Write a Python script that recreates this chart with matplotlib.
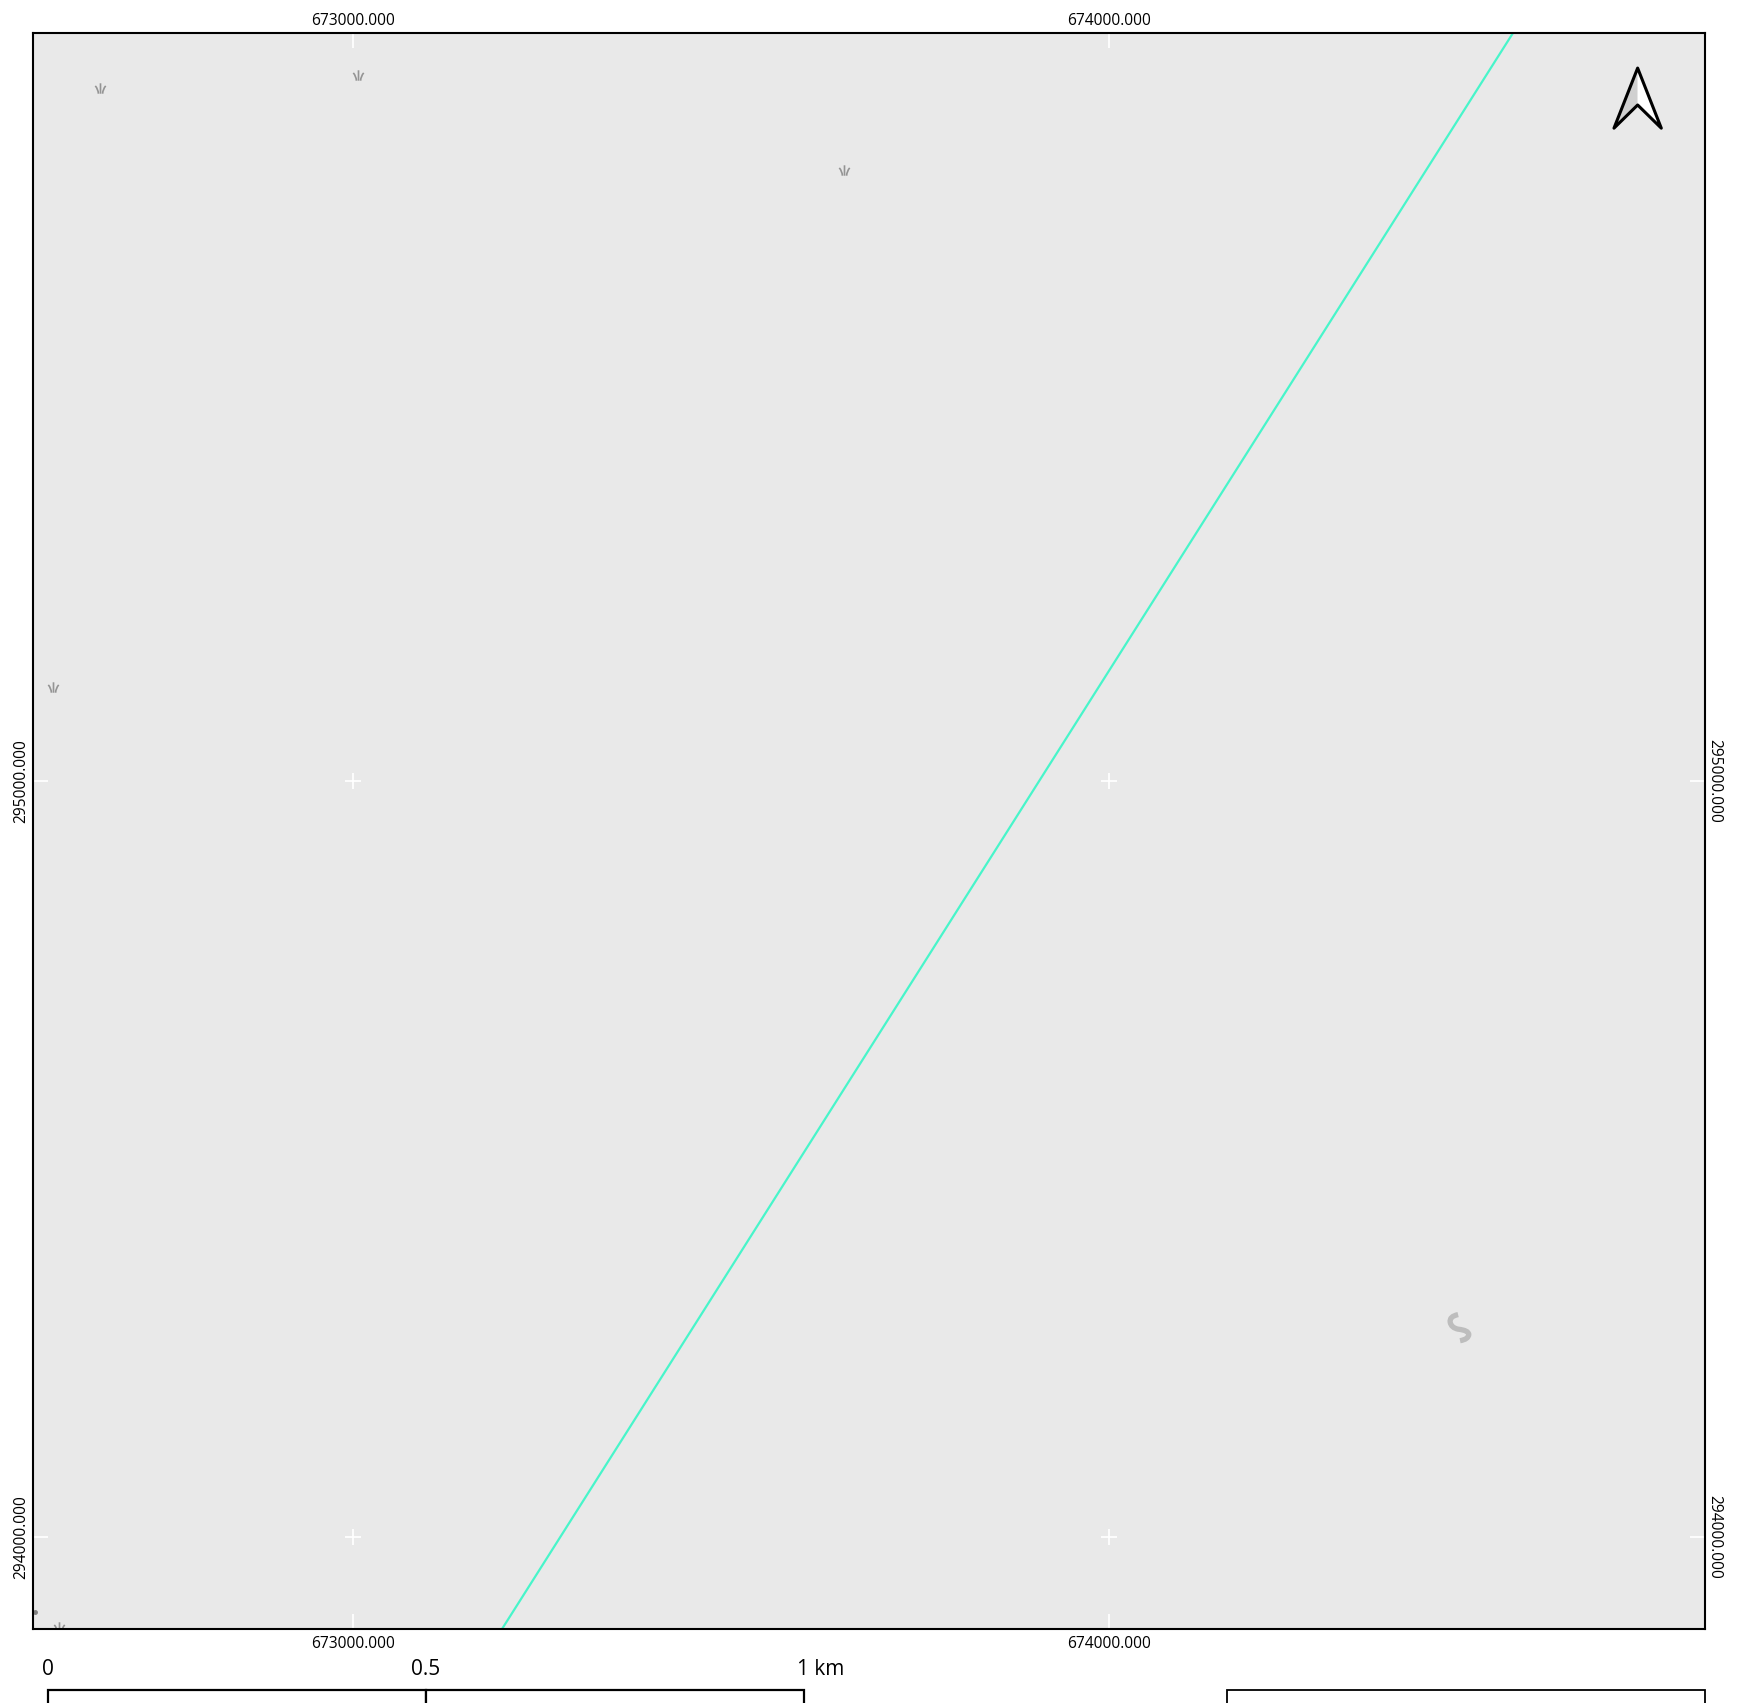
import numpy as np
import matplotlib
matplotlib.use('Agg')
import matplotlib.pyplot as plt
from matplotlib.patches import Polygon, Rectangle
from matplotlib.path import Path
from matplotlib.ticker import StrMethodFormatter

plt.rcParams['font.family'] = ['Open Sans', 'DejaVu Sans']

# map extent (metres)
x_min, x_max = 672577.1, 674788.8
y_min, y_max = 293878.3, 295989.4

grid_x = [673000, 674000]
grid_y = [294000, 295000]

# the one road crossing the map
road_x = [673197.5, 674534.8]
road_y = [293878.3, 295989.4]

tree_x = [672665.7, 673007, 673649.6, 672603.6, 672611.5]
tree_y = [295916, 295934.5, 295808, 295123.7, 293881.6]

dot_x = [672579.8]
dot_y = [293900.8]

curve_x = [674463.8]
curve_y = [294278.2]

# north arrow outline
arrow_tip = (674699.7, 295943)
arrow_left = (674668.4, 295863.5)
arrow_right = (674731, 295863.5)
arrow_notch = (674699.7, 295894.2)

# scale bar
bar_start = 672596.6
bar_km = [0, 0.5, 1]
bar_labels = ['0', '0.5', '1 km']
bar_top = 293797.5
bar_bottom = 293750
bar_label_y = 293817

# empty legend box under the map
box_x = [674156, 674788.8]

bg = '#e9e9e9'
road_color = '#48f5ca'

tree_marker = Path(
    [(0, -1), (0, 1), (-0.4, -1), (-0.45, -0.1), (-1, 0.5),
     (0.4, -1), (0.45, -0.1), (1, 0.5)],
    [Path.MOVETO, Path.LINETO, Path.MOVETO, Path.CURVE3, Path.CURVE3,
     Path.MOVETO, Path.CURVE3, Path.CURVE3])

curve_marker = Path(
    [(-0.1, 0.93), (-0.75, 0.8), (-0.67, 0.38), (-0.6, -0.02), (-0.1, -0.12),
     (0.65, -0.2), (0.67, -0.5), (0.65, -0.85), (0.04, -0.95)],
    [Path.MOVETO, Path.CURVE3, Path.CURVE3, Path.CURVE3, Path.CURVE3,
     Path.CURVE3, Path.CURVE3, Path.CURVE3, Path.CURVE3])

fig = plt.figure(figsize=(17.46, 17.03), dpi=100, facecolor='white')
ax = fig.add_axes([33 / 1746, 1 - 1629 / 1703, 1672 / 1746, 1596 / 1703])
ax.set_facecolor(bg)
ax.set_xlim(x_min, x_max)
ax.set_ylim(y_min, y_max)

ax.plot(road_x, road_y, color=road_color, lw=1.6, zorder=2)

ax.plot(tree_x, tree_y, ls='none', marker=tree_marker, ms=7.5, mfc='none',
        mec='#949494', mew=1.2, zorder=2)
ax.plot(dot_x, dot_y, ls='none', marker='o', ms=2.5, color='#808080', zorder=2)
ax.plot(curve_x, curve_y, ls='none', marker=curve_marker, ms=19, mfc='none',
        mec='#bdbdbd', mew=3.8, zorder=2)

# grid crosses
gx, gy = np.meshgrid(grid_x, grid_y)
ax.plot(gx.ravel(), gy.ravel(), ls='none', marker='+', ms=11, mew=1.3, color='white', zorder=3)

ax.set_xticks(grid_x)
ax.set_yticks(grid_y)
ax.xaxis.set_major_formatter(StrMethodFormatter('{x:.3f}'))
ax.yaxis.set_major_formatter(StrMethodFormatter('{x:.3f}'))
ax.tick_params(axis='both', direction='in', length=11, width=1.3, color='white',
               labelsize=11.2, top=True, right=True, labelcolor='black')
ax.tick_params(axis='x', pad=5)
ax.tick_params(axis='y', pad=2.6)
for label in ax.get_yticklabels():
    label.set_rotation(90)
    label.set_va('center')

# the opposite sides sit at slightly different distances from the frame
sec_x = ax.secondary_xaxis('top')
sec_x.set_xticks(grid_x)
sec_x.xaxis.set_major_formatter(StrMethodFormatter('{x:.3f}'))
sec_x.tick_params(length=0, pad=2.6, labelsize=11.2)
sec_y = ax.secondary_yaxis('right')
sec_y.set_yticks(grid_y)
sec_y.yaxis.set_major_formatter(StrMethodFormatter('{x:.3f}'))
sec_y.tick_params(length=0, pad=0.7, labelsize=11.2)
for label in sec_y.get_yticklabels():
    label.set_rotation(270)
    label.set_va('center')
for sec in (sec_x, sec_y):
    for spine in sec.spines.values():
        spine.set_visible(False)

for spine in ax.spines.values():
    spine.set_linewidth(1.5)
    spine.set_color('black')

# north arrow
ax.add_patch(Polygon([arrow_tip, arrow_notch, arrow_left], closed=True, fc='#d0d0d0', ec='none', zorder=4))
ax.add_patch(Polygon([arrow_tip, arrow_notch, arrow_right], closed=True, fc='white', ec='none', zorder=4))
ax.add_patch(Polygon([arrow_tip, arrow_right, arrow_notch, arrow_left], closed=True, fc='none',
                     ec='black', lw=2.2, joinstyle='round', zorder=5))

# scale bar, runs off the bottom of the page
bar_pos = [bar_start + km * 1000 for km in bar_km]
for i in range(len(bar_pos) - 1):
    ax.add_patch(Rectangle((bar_pos[i], bar_bottom), bar_pos[i + 1] - bar_pos[i], bar_top - bar_bottom,
                           fc='white', ec='black', lw=1.6, clip_on=False))
for pos, label in zip(bar_pos, bar_labels):
    if label.endswith('km'):
        ax.annotate(label, (pos, bar_label_y), xytext=(-4.5, 0), textcoords='offset points',
                    ha='left', va='baseline', fontsize=15, annotation_clip=False)
    else:
        ax.text(pos, bar_label_y, label, ha='center', va='baseline', fontsize=15, clip_on=False)

ax.add_patch(Rectangle((box_x[0], bar_bottom), box_x[1] - box_x[0], bar_top - bar_bottom,
                       fc='white', ec='black', lw=1.3, clip_on=False))

fig.savefig('out.png', dpi=100)
